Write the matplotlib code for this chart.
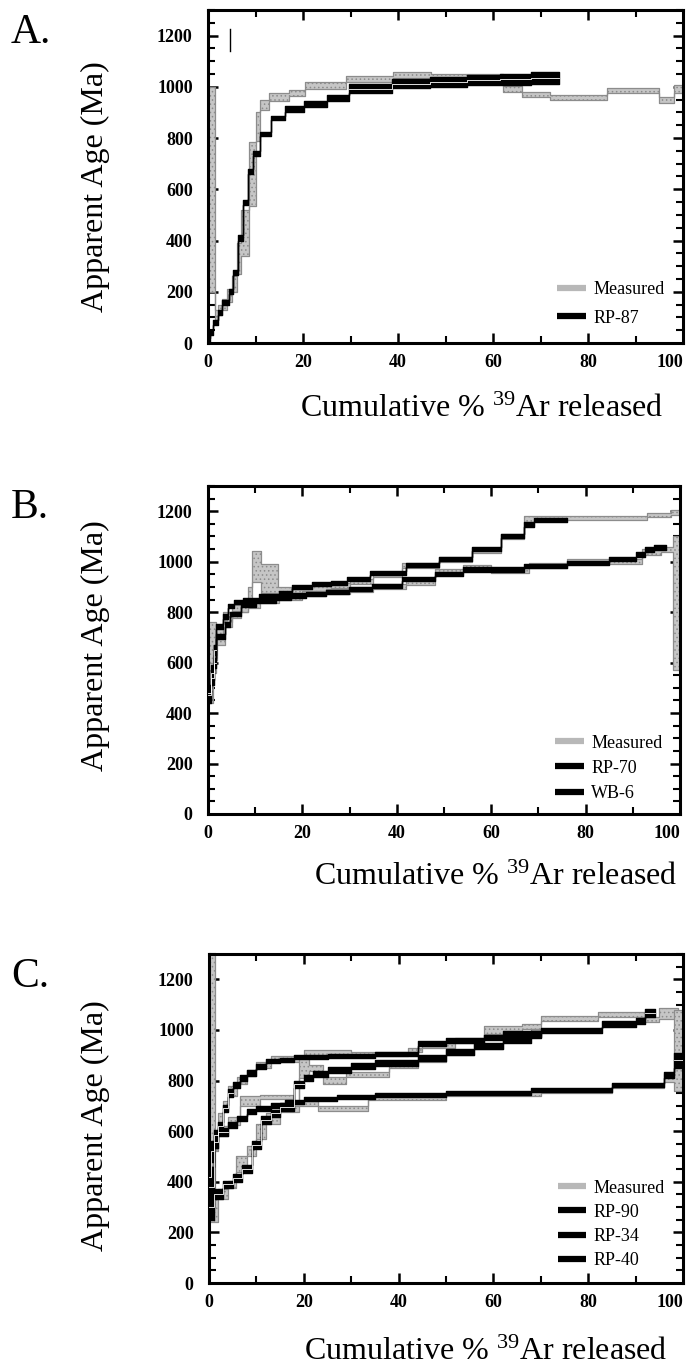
import numpy as np
import matplotlib
matplotlib.use("Agg")
import matplotlib.pyplot as plt
from matplotlib.lines import Line2D
from matplotlib.ticker import MultipleLocator, FixedLocator

plt.rcParams.update({
    "font.family": ["Liberation Serif", "DejaVu Serif"],
    "mathtext.fontset": "custom",
    "mathtext.rm": "Liberation Serif",
    "mathtext.it": "Liberation Serif:italic",
    "hatch.linewidth": 0.6,
})

W, H = 691, 1372
GRAY_FC = "#c6c6c6"
GRAY_EC = "#8c8c8c"

# ---------------------------------------------------------------- data
# each spectrum: step edges (cumulative %39Ar), apparent age (Ma), 1-sigma width (Ma)

# panel A
A_meas_x = [0, 1.4, 2.2, 3.0, 4.0, 5.0, 6.0, 7.0, 8.6, 10.0, 11.0, 12.8, 17.0, 20.5,
            29.0, 39.0, 47.0, 62.0, 66.0, 72.0, 84.0, 95.0, 98.0, 100.0]
A_meas_age = [600, 110, 130, 150, 185, 230, 330, 430, 660, 845, 930, 960, 975, 1005,
              1030, 1045, 1040, 990, 970, 957, 987, 950, 992]
A_meas_err = [400, 20, 20, 20, 25, 30, 60, 90, 125, 55, 20, 15, 12, 12,
              12, 12, 10, 12, 10, 10, 10, 12, 15]

A_rp87_x = [0, 0.5, 1.0, 2.0, 3.0, 4.4, 5.3, 6.3, 7.4, 8.4, 9.5, 11.0, 13.2, 16.3,
            20.2, 25.1, 29.7, 38.7, 46.7, 54.5, 61.5, 68.0, 73.8]
A_rp87_age = [10, 40, 80, 120, 158, 200, 275, 410, 550, 670, 740, 815, 878,
              912, 932, 957, 993, 1012, 1018, 1027, 1030, 1035]
A_rp87_err = [10, 10, 10, 10, 8, 10, 10, 10, 10, 10, 10, 8, 8,
              12, 12, 12, 17, 18, 20, 20, 22, 22]

# panel B
B_meas1_x = [0, 1.8, 3.2, 5.0, 8.5, 9.3, 11.3, 14.9, 17.5, 20.5, 26, 30, 35, 41, 49,
             56, 62, 67, 69, 76, 93, 98, 100]
B_meas1_age = [660, 720, 780, 815, 875, 980, 933, 885, 880, 895, 905, 920, 950, 985,
               1010, 1045, 1100, 1160, 1170, 1175, 1185, 1195]
B_meas1_err = [100, 20, 20, 15, 25, 62, 56, 15, 10, 10, 10, 10, 10, 10,
               10, 10, 10, 20, 10, 8, 8, 10]

B_meas2_x = [0, 1, 2, 3.5, 5, 7, 8.5, 11, 15, 20, 25, 30, 35, 42, 48, 54, 60, 68,
             76, 85, 92, 96, 98.5, 100]
B_meas2_age = [520, 640, 690, 760, 790, 815, 830, 845, 860, 875, 880, 890, 900, 918,
               960, 975, 965, 985, 1000, 1000, 1040, 1050, 835]
B_meas2_err = [80, 30, 20, 20, 15, 15, 12, 10, 10, 10, 10, 10, 10, 10,
               10, 10, 10, 10, 10, 10, 12, 10, 265]

B_rp70_x = [0, 0.6, 1.2, 1.8, 3.2, 4.3, 5.6, 7.4, 10.9, 15.0, 17.9, 22.0, 26.0, 29.5,
            34.4, 42.0, 49.0, 56.0, 62.0, 67.0, 69.0, 76.0]
B_rp70_age = [480, 560, 650, 744, 784, 824, 840, 850, 862, 874, 898, 910, 917,
              931, 957, 985, 1009, 1049, 1102, 1148, 1165]
B_rp70_err = [30, 30, 20, 10, 10, 8, 8, 8, 8, 8, 8, 8, 8,
              8, 8, 8, 8, 8, 8, 10, 8]

B_wb6_x = [0, 0.6, 1.2, 1.8, 3.5, 4.6, 7.0, 10.2, 14.4, 17.5, 20.7, 25.0, 29.9, 34.8,
           41.0, 48.0, 54.0, 67.0, 76.0, 85.0, 90.6, 92.5, 94.4, 97.0]
B_wb6_age = [470, 540, 600, 703, 751, 791, 827, 844, 858, 866, 873, 879, 890,
             905, 930, 950, 969, 983, 996, 1009, 1029, 1049, 1056]
B_wb6_err = [30, 30, 20, 10, 10, 8, 8, 8, 8, 8, 8, 8, 8,
             8, 8, 8, 8, 8, 8, 8, 10, 10, 10]

# panel C
C_meas1_x = [0, 1.2, 2, 3, 4, 6, 8, 10, 13, 20, 30, 42, 45, 52, 58, 66, 70, 82, 92,
             95, 99, 100]
C_meas1_age = [800, 560, 640, 700, 760, 800, 830, 860, 885, 910, 905, 920, 940, 960,
               1000, 1015, 1045, 1060, 1040, 1065, 1010]
C_meas1_err = [500, 40, 30, 20, 20, 15, 12, 12, 10, 10, 8, 8, 10, 10,
               15, 10, 10, 10, 10, 20, 40]

C_meas2_x = [0, 2, 4, 5.8, 8, 10, 12, 15, 19, 21, 24, 29, 38, 44, 50, 56, 62, 68, 70]
C_meas2_age = [300, 350, 390, 470, 520, 600, 650, 690, 850, 850, 800, 825, 860, 885,
               910, 935, 975, 990]
C_meas2_err = [60, 20, 15, 30, 20, 30, 20, 15, 40, 12, 15, 10, 10, 10,
               10, 10, 12, 12]

C_meas3_x = [0, 1, 2, 4, 6.5, 10.8, 17.8, 23, 33.5, 50, 70, 85, 96, 98, 100]
C_meas3_age = [350, 560, 600, 640, 720, 735, 710, 690, 730, 745, 760, 780, 810, 920]
C_meas3_err = [80, 30, 20, 15, 20, 8, 10, 10, 8, 8, 8, 8, 15, 160]

C_rp90_x = [0, 0.5, 1, 2, 3, 4, 5, 6.5, 8, 10, 12, 15, 18, 25, 35, 44, 50, 58, 62,
            70, 83, 90, 92, 94]
C_rp90_age = [420, 520, 583, 620, 690, 750, 783, 809, 830, 856, 876, 882, 893, 897,
              905, 946, 959, 970, 982, 999, 1022, 1035, 1068]
C_rp90_err = [60, 40, 20, 15, 15, 15, 12, 12, 12, 10, 8, 8, 8, 8,
              8, 10, 10, 10, 12, 10, 12, 12, 15]

C_rp34_x = [0, 1, 3, 5, 7, 9, 11, 13, 15, 18, 20, 22, 25, 30, 35, 44, 50, 56, 62, 68, 70]
C_rp34_age = [300, 350, 390, 415, 450, 545, 645, 670, 695, 785, 810, 825, 843, 856,
              870, 890, 912, 935, 960, 985]
C_rp34_err = [50, 20, 15, 15, 15, 15, 15, 15, 15, 15, 12, 12, 12, 12,
              12, 12, 12, 12, 12, 12]

C_rp40_x = [0, 1, 2, 4, 6, 8, 10, 13, 16, 20, 27, 35, 50, 68, 85, 96, 98, 100]
C_rp40_age = [380, 557, 597, 623, 650, 676, 690, 703, 714, 727, 735, 743, 750, 763,
              783, 823, 880]
C_rp40_err = [80, 25, 15, 12, 10, 10, 10, 10, 8, 8, 8, 8, 8, 8, 8, 12, 30]

X_TICKS = [0, 20, 40, 60, 80, 100]


# ---------------------------------------------------------------- helpers
def spectrum(ax, edges, ages, errs, measured=False):
    e = np.asarray(edges, float)
    a = np.asarray(ages, float)
    s = np.asarray(errs, float)
    lo = np.append(a - s, a[-1] - s[-1])
    hi = np.append(a + s, a[-1] + s[-1])
    if measured:
        ax.fill_between(e, lo, hi, step="post", facecolor=GRAY_FC, edgecolor=GRAY_EC,
                        hatch="....", lw=0.9, zorder=2)
    else:
        ax.fill_between(e, lo, hi, step="post", facecolor="black", edgecolor="black",
                        lw=1.0, zorder=3)
        # thin white line inside wider bands
        mid = np.append(a, a[-1])
        wide = np.append(s, s[-1]) >= 15
        ax.step(e, np.where(wide, mid, np.nan), where="post", color="white",
                lw=0.6, zorder=4)


def style_ax(ax):
    ax.set_xlim(0, 100)
    ax.set_ylim(0, 1300)
    ax.xaxis.set_major_locator(FixedLocator(X_TICKS))
    ax.xaxis.set_minor_locator(MultipleLocator(10))
    ax.yaxis.set_major_locator(MultipleLocator(200))
    ax.yaxis.set_minor_locator(MultipleLocator(50))
    ax.tick_params(which="both", direction="in", top=True, right=True)
    ax.tick_params(which="major", length=7, width=1.8, labelsize=13)
    ax.tick_params(which="minor", length=5, width=1.5)
    ax.tick_params(axis="y", pad=11)
    ax.tick_params(axis="x", pad=8)
    for lab in ax.get_xticklabels() + ax.get_yticklabels():
        lab.set_fontweight("bold")
    # last x label sits inside the frame like the original
    ax.xaxis.get_major_ticks()[-1].label1.set_horizontalalignment("right")
    for s in ax.spines.values():
        s.set_linewidth(2.2)


def legend(ax, labels, y0, spacing):
    hs = [Line2D([], [], color="#b8b8b8", lw=4.5, solid_capstyle="butt")]
    hs += [Line2D([], [], color="black", lw=4.5, solid_capstyle="butt")
           for _ in labels[1:]]
    ax.legend(hs, labels, loc="lower left", bbox_to_anchor=(0.72, y0), frameon=False,
              fontsize=13, handlelength=1.6, handletextpad=0.4, labelspacing=spacing,
              borderaxespad=0)


def ax_at(fig, left, top, right, bottom):
    return fig.add_axes([left / W, 1 - bottom / H, (right - left) / W, (bottom - top) / H])


def labels(fig, letter, letter_base, ylab_y, xlab_x, xlab_base):
    fig.text(11 / W, 1 - letter_base / H, letter, fontsize=30, va="baseline", ha="left")
    fig.text(95 / W, 1 - ylab_y / H, "Apparent Age (Ma)", fontsize=23, rotation=90,
             ha="center", va="center")
    fig.text(xlab_x / W, 1 - xlab_base / H, r"Cumulative % $^{\mathregular{39}}$Ar released",
             fontsize=23, ha="center", va="baseline")


fig = plt.figure(figsize=(W / 100, H / 100), dpi=100)

# ---------------------------------------------------------------- A
axA = ax_at(fig, 208, 10, 683, 343)
spectrum(axA, A_meas_x, A_meas_age, A_meas_err, measured=True)
spectrum(axA, A_rp87_x, A_rp87_age, A_rp87_err)
axA.plot([4.6, 4.6], [1140, 1225], color="black", lw=1.0)
style_ax(axA)
legend(axA, ["Measured", "RP-87"], 0.027, 0.65)
labels(fig, "A.", 43, 187, 482, 417)

# ---------------------------------------------------------------- B
axB = ax_at(fig, 208, 486, 680, 814)
spectrum(axB, B_meas1_x, B_meas1_age, B_meas1_err, measured=True)
spectrum(axB, B_meas2_x, B_meas2_age, B_meas2_err, measured=True)
spectrum(axB, B_rp70_x, B_rp70_age, B_rp70_err)
spectrum(axB, B_wb6_x, B_wb6_age, B_wb6_err)
style_ax(axB)
legend(axB, ["Measured", "RP-70", "WB-6"], 0.015, 0.45)
labels(fig, "B.", 518, 646, 496, 885)

# ---------------------------------------------------------------- C
axC = ax_at(fig, 209, 954, 683, 1283)
spectrum(axC, C_meas1_x, C_meas1_age, C_meas1_err, measured=True)
spectrum(axC, C_meas2_x, C_meas2_age, C_meas2_err, measured=True)
spectrum(axC, C_meas3_x, C_meas3_age, C_meas3_err, measured=True)
spectrum(axC, C_rp90_x, C_rp90_age, C_rp90_err)
spectrum(axC, C_rp34_x, C_rp34_age, C_rp34_err)
spectrum(axC, C_rp40_x, C_rp40_age, C_rp40_err)
style_ax(axC)
legend(axC, ["Measured", "RP-90", "RP-34", "RP-40"], 0.02, 0.4)
labels(fig, "C.", 987, 1126, 486, 1360)

fig.savefig("out.png", dpi=100)
